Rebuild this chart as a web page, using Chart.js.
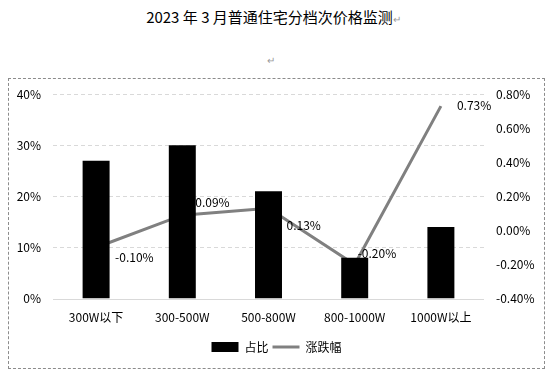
<!DOCTYPE html>
<html>
<head>
<meta charset="utf-8">
<script src="https://cdn.jsdelivr.net/npm/chart.js@4/dist/chart.umd.min.js"></script>
<style>
  body { margin: 0; width: 547px; height: 370px; background: #fff; position: relative; overflow: hidden;
         font-family: "Noto Sans CJK SC", "Noto Sans", sans-serif; }
  #title { position: absolute; left: 0; width: 547px; top: 6px; text-align: center; font-size: 15px; color: #000; }
  #title .pm, #mark { color: #9a9a9a; font-size: 10px; }
  #mark { position: absolute; left: 267px; top: 52px; }
  #box { position: absolute; left: 8px; top: 78px; width: 535px; height: 289px; border: 1px dashed #8c8c8c; }
  #box canvas { display: block; position: absolute; left: 0; top: -4px; }
</style>
</head>
<body>
<div id="title">2023 年 3 月普通住宅分档次价格监测<span class="pm">↵</span></div>
<div id="mark">↵</div>
<div id="box"><canvas id="myChart" width="535" height="293"></canvas></div>
<script>
const categories = ['300W以下', '300-500W', '500-800W', '800-1000W', '1000W以上'];
const shareValues = [27, 30, 21, 8, 14];          // 占比, %
const changeValues = [-0.10, 0.09, 0.13, -0.20, 0.73]; // 涨跌幅, %
const shareLabel = '占比';
const changeLabel = '涨跌幅';

// label offsets from each line point (px)
const labelOffsets = [[19, 10], [13, -13], [18, 17], [3, -11], [16, -1]];

const font = { family: '"Noto Sans CJK SC", "Noto Sans", sans-serif', size: 12 };

const lineLabels = {
    id: 'lineLabels',
    afterDatasetsDraw(chart) {
        const meta = chart.getDatasetMeta(1);
        const ctx = chart.ctx;
        ctx.save();
        ctx.font = '12px ' + font.family;
        ctx.fillStyle = '#000';
        ctx.textAlign = 'left';
        ctx.textBaseline = 'middle';
        meta.data.forEach((pt, i) => {
            const o = labelOffsets[i];
            ctx.fillText(changeValues[i].toFixed(2) + '%', pt.x + o[0], pt.y + o[1]);
        });
        ctx.restore();
    }
};

// dashed gridlines, solid baseline at 0%
const gridLines = {
    id: 'gridLines',
    beforeDatasetsDraw(chart) {
        const y = chart.scales.y;
        const a = chart.chartArea;
        const ctx = chart.ctx;
        ctx.save();
        ctx.strokeStyle = '#d9d9d9';
        ctx.lineWidth = 1;
        y.ticks.forEach(t => {
            const py = Math.round(y.getPixelForValue(t.value)) + 0.5;
            ctx.setLineDash(t.value === 0 ? [] : [4, 3]);
            ctx.beginPath();
            ctx.moveTo(a.left, py);
            ctx.lineTo(a.right, py);
            ctx.stroke();
        });
        ctx.restore();
    }
};

const ctx = document.getElementById('myChart');
new Chart(ctx, {
    data: {
        labels: categories,
        datasets: [{
            type: 'bar',
            label: shareLabel,
            data: shareValues,
            backgroundColor: '#000',
            yAxisID: 'y',
            categoryPercentage: 1,
            barPercentage: 0.313
        }, {
            type: 'line',
            label: changeLabel,
            data: changeValues,
            borderColor: '#808080',
            backgroundColor: '#808080',
            borderWidth: 3,
            pointRadius: 0,
            tension: 0,
            yAxisID: 'y1'
        }]
    },
    options: {
        responsive: false,
        animation: false,
        layout: { padding: { top: 0, bottom: 5 } },
        scales: {
            x: {
                grid: { display: false, drawTicks: false },
                border: { display: false },
                ticks: { color: '#000', font: font, padding: 12 }
            },
            y: {
                position: 'left',
                min: 0, max: 40,
                ticks: { stepSize: 10, color: '#000', font: font, padding: 12, callback: v => v + '%' },
                grid: { display: false, drawTicks: false },
                border: { display: false },
                afterFit(s) { s.width = 44; }
            },
            y1: {
                position: 'right',
                min: -0.4, max: 0.8,
                ticks: { stepSize: 0.2, color: '#000', font: font, padding: 12, callback: v => v.toFixed(2) + '%' },
                grid: { display: false, drawTicks: false },
                border: { display: false },
                afterFit(s) { s.width = 60; }
            }
        },
        plugins: {
            legend: {
                position: 'bottom',
                labels: {
                    color: '#000',
                    font: font,
                    usePointStyle: true,
                    pointStyleWidth: 27,
                    boxHeight: 10,
                    padding: 4,
                    generateLabels(chart) {
                        return [{
                            text: shareLabel, datasetIndex: 0, pointStyle: 'rect',
                            fillStyle: '#000', strokeStyle: '#000', lineWidth: 0, fontColor: '#000'
                        }, {
                            text: changeLabel, datasetIndex: 1, pointStyle: 'line',
                            fillStyle: '#808080', strokeStyle: '#808080', lineWidth: 3, fontColor: '#000'
                        }];
                    }
                }
            },
            tooltip: { enabled: false }
        }
    },
    plugins: [gridLines, lineLabels]
});
</script>
</body>
</html>
